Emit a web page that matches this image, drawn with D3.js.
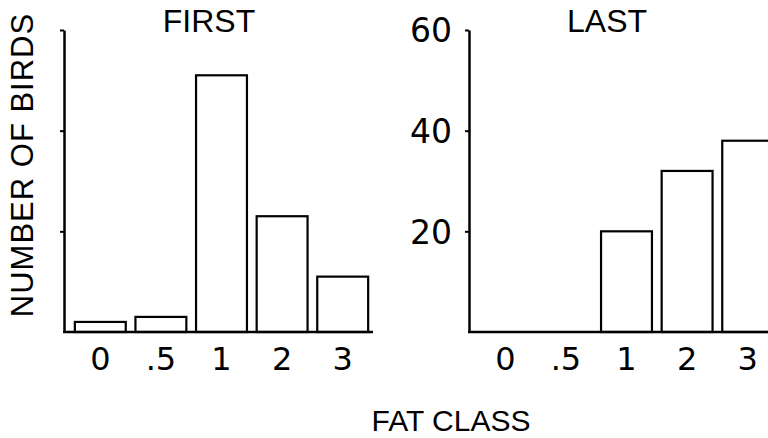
<!DOCTYPE html>
<html>
<head>
<meta charset="utf-8">
<script src="https://cdn.jsdelivr.net/npm/d3@7"></script>
<style>
  body { margin: 0; background: #fff; }
  svg { display: block; }
  text { font-family: "Liberation Sans", Arial, sans-serif; fill: #000; }
  .tick text { font-family: "DejaVu Sans", sans-serif; }
</style>
</head>
<body>
<svg width="768" height="438"></svg>
<script>
// fat class categories and bird counts
const fatClasses = ["0", ".5", "1", "2", "3"];
const firstCounts = [2, 3, 51, 23, 11];
const lastCounts = [0, 0, 20, 32, 38];
const yTicks = [20, 40, 60];

const svg = d3.select("svg"),
    width = +svg.attr("width"),
    height = +svg.attr("height");

const y = d3.scaleLinear().domain([0, 60]).range([332, 30]);

// one panel: axis at axisX, bars laid out over bandRange
function panel(title, counts, axisX, bandRange, showLabels, titleX) {
    const g = svg.append("g");

    const x = d3.scaleBand()
        .domain(fatClasses)
        .range(bandRange)
        .paddingInner(0.16)
        .paddingOuter(0.08);

    const data = fatClasses.map((c, i) => ({ c, v: counts[i] }));

    g.append("g")
        .selectAll("rect")
        .data(data.filter(d => d.v > 0))
        .join("rect")
        .attr("x", d => x(d.c))
        .attr("y", d => y(d.v))
        .attr("width", x.bandwidth())
        .attr("height", d => y(0) - y(d.v))
        .attr("fill", "#fff")
        .attr("stroke", "#000")
        .attr("stroke-width", 2.2);

    // y axis
    const yAxis = g.append("g")
        .attr("transform", `translate(${axisX},0)`)
        .call(d3.axisLeft(y)
            .tickValues(yTicks)
            .tickSize(4)
            .tickSizeOuter(0)
            .tickPadding(13)
            .tickFormat(showLabels ? d3.format("d") : () => ""));
    yAxis.select(".domain").attr("stroke-width", 2.5);
    yAxis.selectAll(".tick line").attr("stroke-width", 2);
    yAxis.selectAll(".tick text")
        .attr("font-size", 33)
        .attr("dy", "0.36em");

    // baseline
    g.append("line")
        .attr("x1", axisX - 1)
        .attr("x2", Math.min(bandRange[1], width))
        .attr("y1", y(0))
        .attr("y2", y(0))
        .attr("stroke", "#000")
        .attr("stroke-width", 2.5);

    // category labels
    const xAxis = g.append("g")
        .attr("transform", `translate(0,${y(0)})`)
        .call(d3.axisBottom(x).tickSize(0).tickPadding(15));
    xAxis.select(".domain").remove();
    xAxis.selectAll(".tick text")
        .attr("font-size", 32)
        .attr("dy", "0.71em");

    g.append("text")
        .attr("x", titleX)
        .attr("y", 32)
        .attr("text-anchor", "middle")
        .attr("font-size", 32)
        .text(title);
}

panel("FIRST", firstCounts, 64, [70, 373], false, 209);
panel("LAST", lastCounts, 469, [475, 778], true, 607);

svg.append("text")
    .attr("transform", "translate(33,165) rotate(-90)")
    .attr("text-anchor", "middle")
    .attr("font-size", 31)
    .attr("letter-spacing", 1)
    .text("NUMBER OF BIRDS");

svg.append("text")
    .attr("x", 451)
    .attr("y", 431)
    .attr("text-anchor", "middle")
    .attr("font-size", 30)
    .text("FAT CLASS");
</script>
</body>
</html>
